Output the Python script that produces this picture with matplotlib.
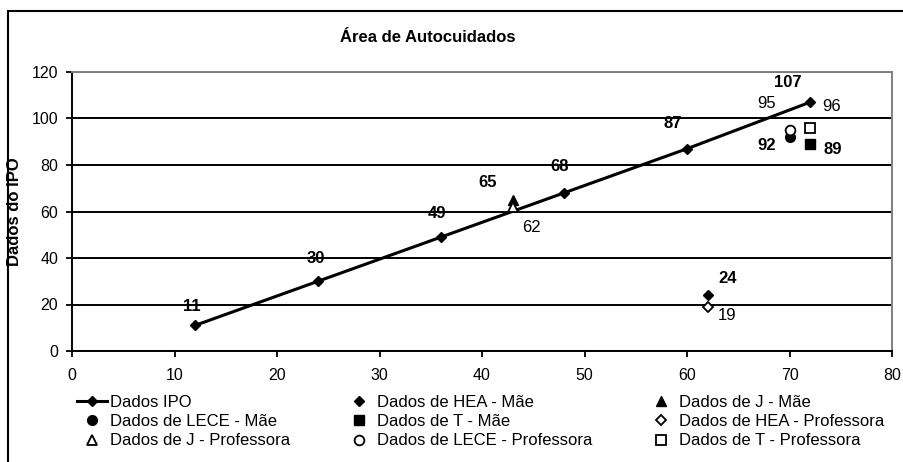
import matplotlib.pyplot as plt
from matplotlib.patches import Rectangle

plt.rcParams['font.family'] = ['Liberation Sans', 'DejaVu Sans']

# dados
ipo_x = [12, 24, 36, 48, 60, 72]
ipo_y = [11, 30, 49, 68, 87, 107]

hea_mae = (62, 24)
j_mae = (43, 65)
lece_mae = (70, 92)
t_mae = (72, 89)
hea_prof = (62, 19)
j_prof = (43, 62)
lece_prof = (70, 95)
t_prof = (72, 96)

titulo = "Área de Autocuidados"
ylabel = "Dados do IPO"

# deslocamento dos rotulos (pixels)
off_ipo = [(-3, 19), (-2, 23), (-4, 24), (-4, 26), (-14, 25), (-22, 20)]

fig = plt.figure(figsize=(9.04, 4.62), dpi=100)
ax = fig.add_axes([72/904, 1-351/462, (892-72)/904, (351-72)/462])

ax.set_xlim(0, 80)
ax.set_ylim(0, 120)
ax.set_xticks(range(0, 81, 10))
ax.set_yticks(range(0, 121, 20))
ax.tick_params(direction='out', length=4, width=1.3, labelsize=11.5, colors='black')
ax.tick_params(axis='x', pad=8)
ax.tick_params(axis='y', pad=6)
ax.set_axisbelow(True)
ax.yaxis.grid(True, color='black', lw=1.4)

for s in ['left', 'bottom']:
    ax.spines[s].set_color('black')
    ax.spines[s].set_linewidth(1.4)
for s in ['top', 'right']:
    ax.spines[s].set_color('#808080')
    ax.spines[s].set_linewidth(1.4)

l_ipo, = ax.plot(ipo_x, ipo_y, color='black', lw=2.2, marker='D', ms=5, label='Dados IPO')
for (x, y), (dx, dy) in zip(zip(ipo_x, ipo_y), off_ipo):
    ax.annotate(str(y), (x, y), xytext=(dx, dy), textcoords='offset pixels',
                ha='center', va='center', fontsize=12, fontweight='bold')

mk = dict(color='black', ls='none', ms=7)
h_hea_m, = ax.plot(*hea_mae, marker='D', markersize=5, color='black', ls='none', label='Dados de HEA - Mãe')
h_j_m, = ax.plot(*j_mae, marker='^', **mk, label='Dados de J - Mãe')
h_lece_m, = ax.plot(*lece_mae, marker='o', **mk, label='Dados de LECE - Mãe')
h_t_m, = ax.plot(*t_mae, marker='s', color='black', ls='none', ms=6.5, label='Dados de T - Mãe')
h_hea_p, = ax.plot(*hea_prof, marker='D', markersize=5, color='black', mfc='white', mew=1.3, ls='none',
                   label='Dados de HEA - Professora')
h_j_p, = ax.plot(*j_prof, marker='^', mfc='white', mew=1.3, **mk, label='Dados de J - Professora')
h_lece_p, = ax.plot(*lece_prof, marker='o', mfc='white', mew=1.3, **mk, label='Dados de LECE - Professora')
h_t_p, = ax.plot(*t_prof, marker='s', mfc='white', mew=1.3, color='black', ls='none', ms=6.5,
                 label='Dados de T - Professora')

def rotulo(p, dx, dy, bold):
    ax.annotate(str(p[1]), p, xytext=(dx, dy), textcoords='offset pixels',
                ha='center', va='center', fontsize=12,
                fontweight='bold' if bold else 'normal')

rotulo(j_mae, -25, 17, True)
rotulo(j_prof, 19, -21, False)
rotulo(hea_mae, 20, 17, True)
rotulo(hea_prof, 20, -9, False)
rotulo(lece_mae, -23, -8, True)
rotulo(lece_prof, -23, 27, False)
rotulo(t_mae, 23, -5, True)
rotulo(t_prof, 22, 21, False)

ax.set_ylabel(ylabel, fontsize=12, fontweight='bold')
ax.yaxis.set_label_coords((22-72)/820, 0.5)
fig.text(428/904, 1-38/462, titulo, ha='center', va='center', fontsize=12, fontweight='bold')

# legenda (preenche por coluna)
handles = [l_ipo, h_lece_m, h_j_p, h_hea_m, h_t_m, h_lece_p, h_j_m, h_hea_p, h_t_p]
fig.legend(handles=handles, labels=[h.get_label() for h in handles], ncol=3,
           loc='upper left', bbox_to_anchor=(77/904, 1-395/462), frameon=False,
           fontsize=12, handlelength=1.8, handletextpad=0.2, columnspacing=3.2,
           labelspacing=0.25, borderpad=0, borderaxespad=0)

fig.add_artist(Rectangle((8/904, -0.1), 1.2, 1.1 - 11/462, transform=fig.transFigure,
                         fill=False, lw=1.5, edgecolor='black'))

fig.savefig('out.png', dpi=100)
